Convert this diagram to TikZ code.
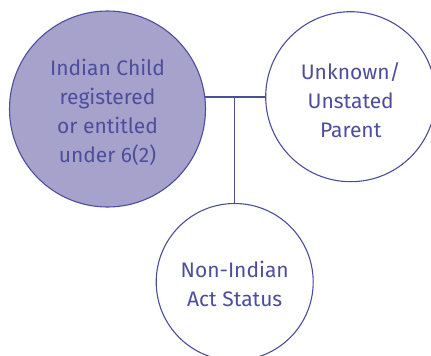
\documentclass[tikz,border=0pt]{standalone}
\usepackage{fontspec}
\setmainfont{Fira Sans}
\definecolor{ink}{HTML}{4D4D9E}
\definecolor{lav}{HTML}{A6A2CC}
\begin{document}
\begin{tikzpicture}[x=1pt,y=-1pt,
  bub/.style={circle,draw=ink,line width=1.1pt,inner sep=0pt},
  txt/.style={align=center,text=ink,inner sep=0pt,
    font=\fontsize{21}{29}\selectfont},
  link/.style={draw=ink,line width=1.1pt}]
\useasboundingbox (0,0) rectangle (431,356);
\node[bub,fill=lav,minimum size=196pt] (child) at (107.5,109) {};
\node[bub,fill=white,minimum size=170pt] (parent) at (350.7,96.7) {};
\node[bub,fill=white,minimum size=157pt] (other) at (234.7,282) {};
\node[txt] (childtxt) at ([yshift=-3pt]child.center) {Indian Child\\registered\\or entitled\\under 6(2)};
\node[txt] (parenttxt) at ([yshift=-3pt]parent.center) {Unknown/\\Unstated\\Parent};
\node[txt] (othertxt) at ([yshift=-2pt]other.center) {Non-Indian\\Act Status};
\coordinate (j) at (other.north |- child.7);
\draw[link] (child.7) -- (child.7 -| parent.west);
\draw[link] (j) -- (other.north);
\end{tikzpicture}
\end{document}
